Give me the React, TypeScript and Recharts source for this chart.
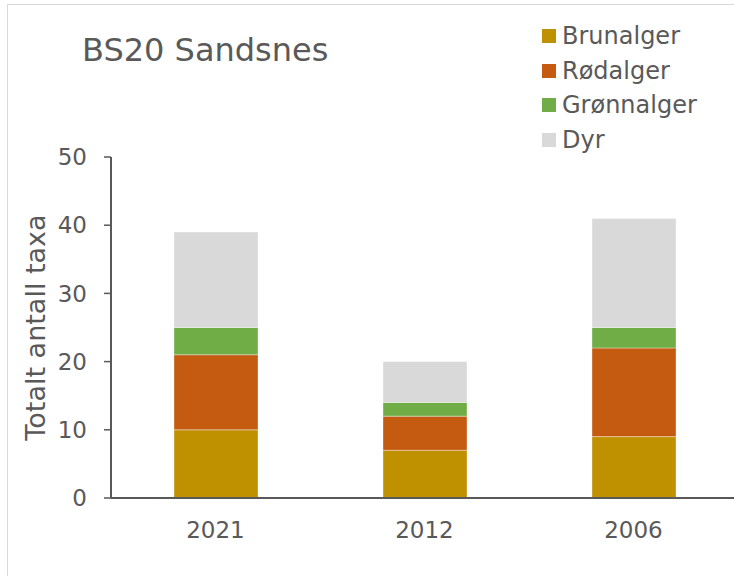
import React from 'react';
import { BarChart, Bar, XAxis, YAxis, Label } from 'recharts';

const years = ['2021', '2012', '2006'];
const brunalger = [10, 7, 9];
const rodalger = [11, 5, 13];
const gronnalger = [4, 2, 3];
const dyr = [14, 6, 16];
const yTicks = [0, 10, 20, 30, 40, 50];

const seriesNames = ['Brunalger', 'Rødalger', 'Grønnalger', 'Dyr'];
const seriesColors = ['#BF9000', '#C55A11', '#70AD47', '#D9D9D9'];

const data = years.map((year, i) => ({
    year,
    Brunalger: brunalger[i],
    Rødalger: rodalger[i],
    Grønnalger: gronnalger[i],
    Dyr: dyr[i],
}));

const FONT = '"DejaVu Sans", Verdana, sans-serif';
const TEXT = '#595959';

// legend drawn outside the chart so recharts doesn't shrink the plot for it
const LegendBox = () => (
    <div style={{ position: 'absolute', left: 542, top: 19, fontFamily: FONT, fontSize: 24, color: TEXT, whiteSpace: 'nowrap' }}>
        {seriesNames.map((name, i) => (
            <div key={name} style={{ display: 'flex', alignItems: 'center', height: 34.5 }}>
                <span style={{ display: 'inline-block', width: 14, height: 14, background: seriesColors[i], marginRight: 6 }} />
                <span>{name}</span>
            </div>
        ))}
    </div>
);

const YTitle = (props: any) => {
    const vb = props.viewBox;
    const cx = vb.x + 35;
    const cy = vb.y + vb.height / 2;
    return (
        <text
            x={cx}
            y={cy}
            transform={`rotate(-90 ${cx} ${cy})`}
            textAnchor="middle"
            dominantBaseline="central"
            fill={TEXT}
            fontSize={27}
            fontFamily={FONT}
        >
            Totalt antall taxa
        </text>
    );
};

const App: React.FC = () => {
    return (
        <div style={{ position: 'absolute', left: 0, top: 0, width: 734, height: 576, overflow: 'hidden', background: '#fff' }}>
            <div style={{ position: 'absolute', left: 7, top: 4, width: 800, height: 800, border: '1.5px solid #D9D9D9' }} />
            <div style={{ position: 'absolute', left: 82, top: 35, fontFamily: FONT, fontSize: 32, lineHeight: '31px', color: TEXT, whiteSpace: 'nowrap' }}>
                BS20 Sandsnes
            </div>
            <LegendBox />
            <div style={{ position: 'absolute', left: 0, top: 0 }}>
                <BarChart width={740} height={576} data={data} margin={{ top: 157, right: 2, bottom: 0, left: 0 }}>
                    <XAxis
                        dataKey="year"
                        height={78}
                        tickLine={false}
                        tickSize={0}
                        tickMargin={24}
                        axisLine={{ stroke: TEXT, strokeWidth: 2 }}
                        tick={{ fill: TEXT, fontSize: 23, fontFamily: FONT }}
                    />
                    <YAxis
                        width={111}
                        domain={[0, 50]}
                        ticks={yTicks}
                        interval={0}
                        tickSize={7}
                        tickMargin={17}
                        axisLine={{ stroke: TEXT, strokeWidth: 2 }}
                        tickLine={{ stroke: TEXT, strokeWidth: 1.5 }}
                        tick={{ fill: TEXT, fontSize: 23, fontFamily: FONT }}
                    >
                        <Label content={YTitle} />
                    </YAxis>
                    {seriesNames.map((name, i) => (
                        <Bar
                            key={name}
                            dataKey={name}
                            stackId="a"
                            fill={seriesColors[i]}
                            stroke="#ffffff"
                            strokeOpacity={0.35}
                            strokeWidth={1}
                            barSize={84}
                            isAnimationActive={false}
                        />
                    ))}
                </BarChart>
            </div>
        </div>
    );
};

export default App;
